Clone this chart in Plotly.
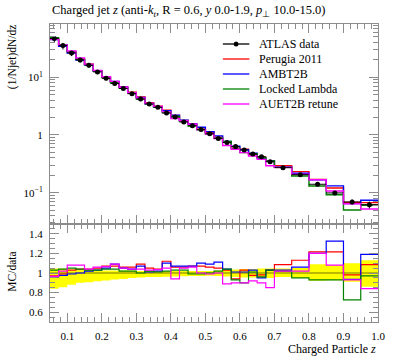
import plotly.graph_objects as go

# ---------------- data ----------------
bin_edges = [0.05, 0.075, 0.1, 0.125, 0.15, 0.175, 0.2, 0.225, 0.25, 0.275, 0.3,
             0.325, 0.35, 0.375, 0.4, 0.425, 0.45, 0.475, 0.5, 0.525, 0.55,
             0.575, 0.6, 0.625, 0.65, 0.675, 0.7, 0.75, 0.8, 0.85, 0.9, 0.95, 1.0]

atlas_data = [47, 35.5, 26.5, 20.0, 16.2, 12.4, 9.6, 7.8, 6.4, 5.2, 4.2,
              3.45, 3.03, 2.4, 2.05, 1.68, 1.45, 1.24, 1.05, 0.87, 0.74,
              0.63, 0.55, 0.47, 0.42, 0.344, 0.271, 0.205, 0.14, 0.099, 0.069, 0.062]

# relative uncertainty of the data (down, up)
err_down = [0.16, 0.145, 0.12, 0.10, 0.095, 0.083, 0.076, 0.066, 0.06, 0.052, 0.045,
            0.042, 0.04, 0.037, 0.035, 0.033, 0.03, 0.03, 0.028, 0.03, 0.035,
            0.04, 0.045, 0.045, 0.048, 0.05, 0.04, 0.05, 0.08, 0.075, 0.09, 0.14]
err_up = [0.045, 0.045, 0.035, 0.03, 0.03, 0.025, 0.025, 0.025, 0.025, 0.025, 0.02,
          0.02, 0.02, 0.02, 0.02, 0.02, 0.02, 0.02, 0.02, 0.025, 0.03,
          0.035, 0.04, 0.04, 0.045, 0.045, 0.045, 0.05, 0.09, 0.08, 0.10, 0.13]

# MC / data ratios
ratio_perugia = [0.97, 0.99, 1.03, 1.04, 1.04, 1.05, 1.07, 1.07, 1.06, 1.06, 1.09,
                 1.05, 1.04, 1.12, 1.06, 1.06, 1.07, 1.07, 1.06, 1.05, 1.03,
                 0.94, 1.03, 0.975, 0.98, 1.03, 1.085, 1.13, 1.215, 1.215, 0.98, 1.085]
ratio_ambt2b = [0.96, 0.975, 0.99, 1.0, 1.02, 1.03, 1.05, 1.09, 1.05, 1.04, 1.07,
                1.01, 1.02, 1.10, 1.07, 1.07, 1.07, 1.10, 1.09, 1.11, 1.04,
                1.01, 1.01, 1.03, 0.95, 1.03, 1.03, 1.06, 1.20, 1.325, 0.935, 1.19]
ratio_locked = [1.03, 1.04, 1.05, 1.04, 1.03, 1.03, 1.04, 1.04, 1.02, 1.02, 1.0,
                1.02, 1.01, 1.02, 1.03, 1.03, 0.99, 0.99, 1.0, 1.02, 1.04,
                0.93, 0.90, 1.01, 0.96, 1.03, 1.02, 0.95, 0.93, 0.93, 0.725, 0.97]
ratio_auet2b = [0.965, 1.02, 1.08, 1.08, 1.04, 1.06, 1.065, 1.09, 1.05, 1.04, 1.04,
                1.03, 1.035, 1.05, 0.94, 1.05, 1.06, 1.0, 0.99, 1.0, 0.89,
                0.90, 0.90, 0.92, 0.90, 0.85, 1.02, 1.02, 1.20, 1.08, 0.93, 0.84]

series_names = ["Perugia 2011", "AMBT2B", "Locked Lambda", "AUET2B retune"]
series_colors = ["#ff0000", "#0000ff", "#008000", "#ff00ff"]
series_ratios = [ratio_perugia, ratio_ambt2b, ratio_locked, ratio_auet2b]

# ---------------- figure ----------------
FONT = "Liberation Serif"
AX = "#8c8c8c"

centers = [(bin_edges[i] + bin_edges[i + 1]) / 2 for i in range(len(atlas_data))]
halfw = [(bin_edges[i + 1] - bin_edges[i]) / 2 for i in range(len(atlas_data))]


def step(vals):
    return list(bin_edges), list(vals) + [vals[-1]]


fig = go.Figure()

# ratio panel: yellow data band
lo = [1 - e for e in err_down]
hi = [1 + e for e in err_up]
x, y = step(lo)
fig.add_trace(go.Scatter(x=x, y=y, mode="lines", line=dict(width=0, shape="hv", color="yellow"),
                         xaxis="x", yaxis="y2", showlegend=False, hoverinfo="skip"))
x, y = step(hi)
fig.add_trace(go.Scatter(x=x, y=y, mode="lines", line=dict(width=0, shape="hv", color="yellow"),
                         fill="tonexty", fillcolor="#ffff00",
                         xaxis="x", yaxis="y2", showlegend=False, hoverinfo="skip"))
x, y = step([1.0] * len(atlas_data))
fig.add_trace(go.Scatter(x=x, y=y, mode="lines", line=dict(width=1, shape="hv", color="rgba(0,0,0,0.55)"),
                         xaxis="x", yaxis="y2", showlegend=False, hoverinfo="skip"))

for name, col, rat in zip(series_names, series_colors, series_ratios):
    mc = [d * r for d, r in zip(atlas_data, rat)]
    x, y = step(mc)
    fig.add_trace(go.Scatter(x=x, y=y, mode="lines", name=name,
                             line=dict(color=col, width=1.4, shape="hv"),
                             xaxis="x2", yaxis="y", showlegend=False))
    x, y = step(rat)
    fig.add_trace(go.Scatter(x=x, y=y, mode="lines", name=name,
                             line=dict(color=col, width=1.2, shape="hv"),
                             xaxis="x", yaxis="y2", showlegend=False))

fig.add_trace(go.Scatter(
    x=centers, y=atlas_data, mode="markers", name="ATLAS data",
    marker=dict(color="black", size=5),
    error_x=dict(type="data", array=halfw, color="black", thickness=1, width=0),
    error_y=dict(type="data", symmetric=False,
                 array=[d * e for d, e in zip(atlas_data, err_up)],
                 arrayminus=[d * e for d, e in zip(atlas_data, err_down)],
                 color="black", thickness=1, width=0),
    xaxis="x2", yaxis="y", showlegend=False))

# ---------------- layout ----------------
W, H = 397, 358
ml, mr, mt, mb = 50, 13, 24, 36
ph = H - mt - mb
pw = W - ml - mr
split = 98 / ph

common_x = dict(range=[0.05, 1.0], showgrid=False, zeroline=False, showline=True, linecolor=AX,
                linewidth=1, mirror="ticks", ticks="inside", ticklen=9, tickcolor=AX,
                tickvals=[0.1, 0.2, 0.3, 0.4, 0.5, 0.6, 0.7, 0.8, 0.9, 1.0],
                minor=dict(ticks="inside", ticklen=5, tickcolor=AX, dtick=0.02, tick0=0.0))

fig.update_layout(
    width=W, height=H,
    margin=dict(l=ml, r=mr, t=mt, b=mb),
    paper_bgcolor="white", plot_bgcolor="white",
    font=dict(family=FONT, size=11, color="black"),
    showlegend=False,
    xaxis=dict(**common_x, anchor="y2", domain=[0, 1],
               ticktext=["0.1", "0.2", "0.3", "0.4", "0.5", "0.6", "0.7", "0.8", "0.9", "1.0"],
               tickfont=dict(size=11), ticklabelstandoff=4),
    xaxis2=dict(**common_x, anchor="y", domain=[0, 1], matches="x", showticklabels=False),
    yaxis=dict(type="log", range=[-1.543, 1.924], domain=[split, 1], anchor="x2",
               showgrid=False, zeroline=False, showline=True, linecolor=AX, mirror="ticks",
               ticks="inside", ticklen=9, tickcolor=AX,
               tickvals=[0.1, 1, 10], ticktext=["10<sup>−1</sup>", "1", "10<sup>1</sup>"],
               minor=dict(ticks="inside", ticklen=5, tickcolor=AX, dtick="D1"),
               tickfont=dict(size=11), ticklabelstandoff=4),
    yaxis2=dict(range=[0.5, 1.5], domain=[0, split], anchor="x",
                showgrid=False, zeroline=False, showline=True, linecolor=AX, mirror="ticks",
                ticks="inside", ticklen=9, tickcolor=AX,
                tickvals=[0.6, 0.8, 1.0, 1.2, 1.4], ticktext=["0.6", "0.8", "1", "1.2", "1.4"],
                minor=dict(ticks="inside", ticklen=5, tickcolor=AX, dtick=0.05, tick0=0.5),
                tickfont=dict(size=11), ticklabelstandoff=4),
)


def px_x(p):
    return (p - ml) / pw


def px_y(p):
    return 1 - (p - mt) / ph


annotations = [
    dict(text="Charged jet <i>z</i> (anti-<i>k</i><sub><i>t</i></sub>, R = 0.6, <i>y</i> 0.0-1.9, <i>p</i><sub>⊥</sub> 10.0-15.0)",
         x=0, y=px_y(11), xref="paper", yref="paper", xanchor="left", yanchor="middle",
         showarrow=False, font=dict(size=12.5)),
    dict(text="(1/Njet)dN/dz", x=px_x(12), y=px_y(22), xref="paper", yref="paper",
         xanchor="center", yanchor="top", textangle=-90, showarrow=False, font=dict(size=11.5)),
    dict(text="MC/data", x=px_x(11), y=px_y(272), xref="paper", yref="paper",
         xanchor="center", yanchor="middle", textangle=-90, showarrow=False, font=dict(size=11.5)),
    dict(text="Charged Particle <i>z</i>", x=1, y=px_y(349), xref="paper", yref="paper",
         xanchor="right", yanchor="middle", showarrow=False, font=dict(size=12)),
]

shapes = []
legend_names = ["ATLAS data"] + series_names
legend_colors = ["black"] + series_colors
for i, (nm, col) in enumerate(zip(legend_names, legend_colors)):
    yy = px_y(44 + 15 * i)
    shapes.append(dict(type="line", xref="paper", yref="paper", x0=px_x(226), x1=px_x(253),
                       y0=yy, y1=yy, line=dict(color=col, width=1.3)))
    if i == 0:
        shapes.append(dict(type="circle", xref="paper", yref="paper",
                           x0=px_x(237), x1=px_x(242), y0=yy - 2.5 / ph, y1=yy + 2.5 / ph,
                           fillcolor="black", line=dict(color="black", width=0)))
    annotations.append(dict(text=nm, x=px_x(261), y=yy, xref="paper", yref="paper",
                            xanchor="left", yanchor="middle", showarrow=False,
                            font=dict(size=12)))

fig.update_layout(annotations=annotations, shapes=shapes)

fig.write_html("out.html",
               config={"displayModeBar": False},
               post_script="document.body.style.margin='0px';document.body.style.padding='0px';")
